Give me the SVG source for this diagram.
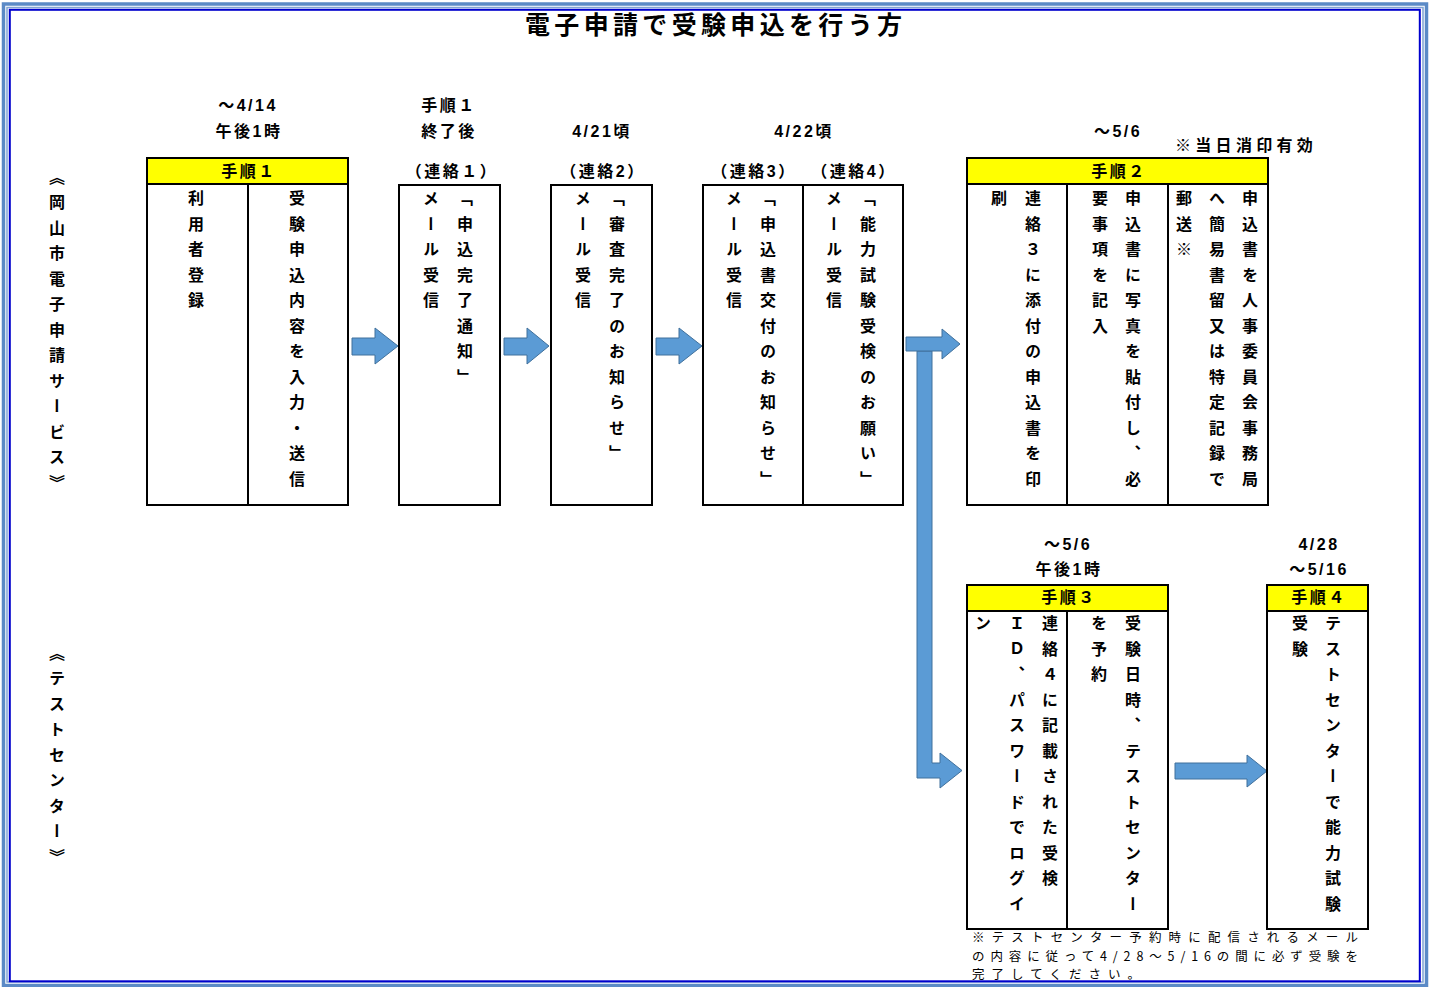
<svg xmlns="http://www.w3.org/2000/svg" width="1431" height="987" viewBox="0 0 1431 987">
<style>
.bx{fill:#fff;stroke:#000;stroke-width:2}
.hd{fill:#ffff00;stroke:#000;stroke-width:2}
.dv{stroke:#000;stroke-width:2}
.ar{fill:#5b9bd5;stroke:#41719c;stroke-width:1}
.v{writing-mode:vertical-rl;font-family:"Noto Sans CJK JP","Noto Sans CJK SC",sans-serif;font-size:16px;font-weight:bold;letter-spacing:9.5px;fill:#000}
.h{font-family:"Liberation Sans","Noto Sans CJK JP",sans-serif;font-size:16px;font-weight:bold;text-anchor:middle;letter-spacing:2.5px;fill:#000}
.hj{font-family:"Noto Sans CJK JP",sans-serif;font-size:16px;font-weight:bold;text-anchor:middle;letter-spacing:2.5px;fill:#000}
.fn{font-family:"Noto Sans CJK JP",sans-serif;font-size:12.5px;fill:#000}
</style>
<rect x="0" y="0" width="1431" height="987" fill="#fff"/>
<g id="frame" fill="none">
<rect x="3.5" y="4" width="1423" height="981.5" stroke="#5b8ac6" stroke-width="3.5"/>
<rect x="7" y="7.5" width="1416" height="974.5" stroke="#7fa3d3" stroke-width="1.5"/>
<rect x="9.8" y="9.8" width="1410" height="971.5" stroke="#0000cc" stroke-width="2"/>
</g>
<text id="title" x="525" y="34" textLength="377" lengthAdjust="spacing" style="font-family:'Noto Sans CJK JP',sans-serif;font-size:25px;font-weight:bold;fill:#000">電子申請で受験申込を行う方</text>

<g id="lane-labels">
<text class="v" x="57" y="168.5">《岡山市電子申請サービス》</text>
<text class="v" x="57" y="644.5">《テストセンター》</text>
</g>

<g id="labels">
<text class="h" x="248" y="111">～4/14</text>
<text class="h" x="249" y="137">午後1時</text>
<text class="hj" x="449" y="111">手順１</text>
<text class="hj" x="449" y="137">終了後</text>
<text class="h" x="602" y="137">4/21頃</text>
<text class="h" x="804" y="137">4/22頃</text>
<text class="h" x="1118" y="137">～5/6</text>
<text x="1175" y="151" style="font-family:'Noto Sans CJK JP',sans-serif;font-size:16px;font-weight:bold;letter-spacing:4.3px;fill:#000">※当日消印有効</text>
<text class="hj" x="452" y="177">（連絡１）</text>
<text class="h" x="603" y="177">（連絡2）</text>
<text class="h" x="754" y="177">（連絡3）</text>
<text class="h" x="854" y="177">（連絡4）</text>
<text class="h" x="1068" y="550">～5/6</text>
<text class="h" x="1069" y="575">午後1時</text>
<text class="h" x="1319" y="550">4/28</text>
<text class="h" x="1319" y="575">～5/16</text>
</g>

<g id="connectors">
<polygon class="ar" points="352,338 375,338 375,328 398,346 375,364 375,355 352,355"/>
<polygon class="ar" points="504,338 527,338 527,328 549,346 527,364 527,355 504,355"/>
<polygon class="ar" points="656,338 679,338 679,328 702,346 679,364 679,355 656,355"/>
<polygon class="ar" points="917,351 932,351 932,763 940,763 940,753 962,770.5 940,788 940,778 917,778"/>
<polygon class="ar" points="906,337 942,337 942,329 960,344 942,359 942,351 906,351"/>
<polygon class="ar" points="1175,763 1247,763 1247,755 1267,771 1247,787 1247,779 1175,779"/>
</g>

<g id="step1">
<rect class="hd" x="147" y="158" width="201" height="26"/>
<rect class="bx" x="147" y="184" width="201" height="321"/>
<line class="dv" x1="248" y1="184" x2="248" y2="505"/>
<text class="hj" x="249" y="177">手順１</text>
<text class="v" x="196" y="190">利用者登録</text>
<text class="v" x="297" y="190">受験申込内容を入力・送信</text>
</g>

<g id="contact1">
<rect class="bx" x="399" y="185" width="101" height="320"/>
<text class="v" x="431" y="190">メール受信</text>
<text class="v" x="465" y="190">「申込完了通知」</text>
</g>

<g id="contact2">
<rect class="bx" x="551" y="185" width="101" height="320"/>
<text class="v" x="583" y="190">メール受信</text>
<text class="v" x="617" y="190">「審査完了のお知らせ」</text>
</g>

<g id="contact34">
<rect class="bx" x="703" y="185" width="200" height="320"/>
<line class="dv" x1="803" y1="185" x2="803" y2="505"/>
<text class="v" x="734" y="190">メール受信</text>
<text class="v" x="768" y="190">「申込書交付のお知らせ」</text>
<text class="v" x="834" y="190">メール受信</text>
<text class="v" x="868" y="190">「能力試験受検のお願い」</text>
</g>

<g id="step2">
<rect class="hd" x="967" y="158" width="301" height="26"/>
<rect class="bx" x="967" y="184" width="301" height="321"/>
<line class="dv" x1="1067" y1="184" x2="1067" y2="505"/>
<line class="dv" x1="1168" y1="184" x2="1168" y2="505"/>
<text class="hj" x="1119" y="177">手順２</text>
<text class="v" x="999" y="190">刷</text>
<text class="v" x="1033" y="190">連絡３に添付の申込書を印</text>
<text class="v" x="1100" y="190">要事項を記入</text>
<text class="v" x="1133" y="190">申込書に写真を貼付し、必</text>
<text class="v" x="1184" y="190">郵送※</text>
<text class="v" x="1217" y="190">へ簡易書留又は特定記録で</text>
<text class="v" x="1250" y="190">申込書を人事委員会事務局</text>
</g>

<g id="step3">
<rect class="hd" x="967" y="585" width="201" height="26"/>
<rect class="bx" x="967" y="611" width="201" height="318"/>
<line class="dv" x1="1067" y1="611" x2="1067" y2="929"/>
<text class="hj" x="1069" y="603">手順３</text>
<text class="v" x="983" y="615">ン</text>
<text class="v" x="1017" y="615">ＩＤ、パスワードでログイ</text>
<text class="v" x="1050" y="615">連絡４に記載された受検</text>
<text class="v" x="1099" y="615">を予約</text>
<text class="v" x="1133" y="615">受験日時、テストセンター</text>
</g>

<g id="step4">
<rect class="hd" x="1267" y="585" width="101" height="26"/>
<rect class="bx" x="1267" y="611" width="101" height="318"/>
<text class="hj" x="1319" y="603">手順４</text>
<text class="v" x="1300" y="615">受験</text>
<text class="v" x="1333" y="615">テストセンターで能力試験</text>
</g>

<g id="footnote">
<text class="fn" x="972" y="942" textLength="386" lengthAdjust="spacing">※テストセンター予約時に配信されるメール</text>
<text class="fn" x="972" y="960.5" textLength="386" lengthAdjust="spacing">の内容に従って4/28～5/16の間に必ず受験を</text>
<text class="fn" x="972" y="979" textLength="168" lengthAdjust="spacing">完了してください。</text>
</g>
</svg>
